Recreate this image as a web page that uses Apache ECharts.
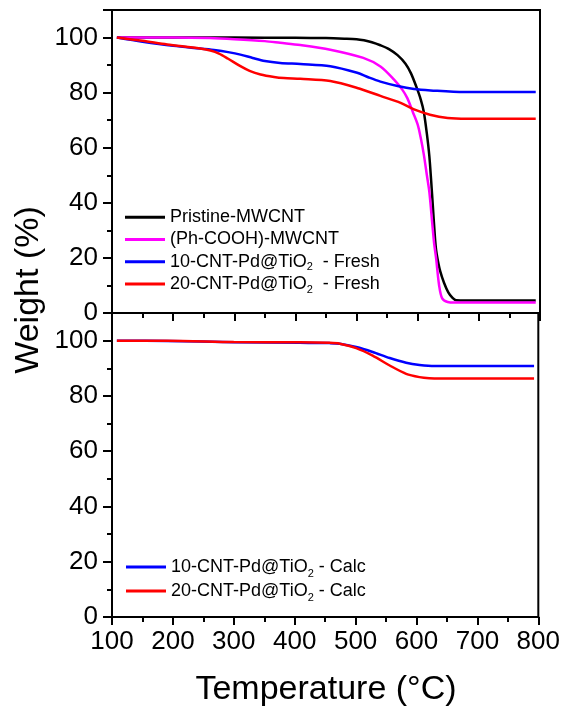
<!DOCTYPE html>
<html>
<head>
<meta charset="utf-8">
<script src="https://cdn.jsdelivr.net/npm/echarts@6/dist/echarts.min.js"></script>
<style>
html,body{margin:0;padding:0;background:#fff;}
#chart{width:563px;height:710px;}
</style>
</head>
<body>
<div id="chart"></div>
<script>
// ---- data (temperature °C, weight %) ----
const tPristine = [108, 200, 300, 400, 450, 480, 500, 512, 525, 539, 553, 567, 580, 589, 598, 605, 610, 615, 619, 622, 625, 628, 630, 633, 637, 643, 650, 657, 663, 680, 793];
const wPristine = [100, 100, 100, 99.9, 99.8, 99.6, 99.4, 99.0, 98.3, 97.2, 95.8, 93.6, 90.5, 87, 82, 77.5, 73, 65, 57, 48, 38, 28, 23, 19, 15, 11, 7.5, 5.5, 4.6, 4.5, 4.5];

const tPhCOOH = [108, 200, 260, 300, 350, 375, 408, 457, 511, 539, 561, 575, 583, 592, 600, 605, 610, 615, 619, 624, 627, 630, 635, 640, 649, 660, 793];
const wPhCOOH = [100, 100, 99.8, 99.4, 98.7, 98.1, 97.3, 95.6, 92.6, 89.5, 84.8, 81, 78, 73, 68.4, 63.5, 57.5, 50, 44, 32, 25, 20, 10, 5.3, 4.0, 3.8, 3.8];

const t10Fresh = [108, 150, 200, 244, 270, 290, 310, 330, 350, 375, 408, 457, 501, 520, 539, 567, 594, 621, 676, 793];
const w10Fresh = [100, 98.5, 97, 96, 95.4, 94.7, 93.8, 92.6, 91.5, 90.8, 90.4, 89.6, 87.2, 85.5, 84, 82.4, 81.3, 80.8, 80.2, 80.2];

const t20Fresh = [108, 150, 190, 244, 261, 275, 290, 310, 325, 343, 365, 381, 408, 457, 501, 539, 572, 594, 620, 649, 680, 793];
const w20Fresh = [100, 98.8, 97.5, 96, 95.3, 94.2, 92.3, 89.6, 87.9, 86.6, 85.7, 85.3, 85, 84.2, 81.7, 78.8, 76.3, 73.9, 72, 70.8, 70.5, 70.5];

const t10Calc = [108, 190, 300, 408, 457, 474, 501, 528, 556, 583, 605, 630, 793];
const w10Calc = [100, 99.9, 99.4, 99.2, 99.1, 98.9, 97.7, 95.9, 93.7, 92, 91.2, 90.8, 90.8];

const t20Calc = [108, 190, 300, 408, 457, 474, 501, 528, 556, 583, 605, 621, 640, 793];
const w20Calc = [100, 100, 99.5, 99.4, 99.2, 98.9, 97.3, 94.6, 91, 88, 86.8, 86.4, 86.3, 86.3];

const seriesNames = ['Pristine-MWCNT', '(Ph-COOH)-MWCNT', '10-CNT-Pd@TiO2  - Fresh', '20-CNT-Pd@TiO2  - Fresh', '10-CNT-Pd@TiO2 - Calc', '20-CNT-Pd@TiO2 - Calc'];
const seriesColors = ['#000000', '#ff00ff', '#0000ff', '#ff0000', '#0000ff', '#ff0000'];

const xTickLabels = [100, 200, 300, 400, 500, 600, 700, 800];
const yTickLabels = [0, 20, 40, 60, 80, 100];

const xTitle = 'Temperature (°C)';
const yTitle = 'Weight (%)';

// ---- build ----
const zip = (a, b) => a.map((v, i) => [v, b[i]]);
const seriesData = [
  zip(tPristine, wPristine), zip(tPhCOOH, wPhCOOH), zip(t10Fresh, w10Fresh),
  zip(t20Fresh, w20Fresh), zip(t10Calc, w10Calc), zip(t20Calc, w20Calc)
];
const panelOf = [0, 0, 0, 0, 1, 1];

const FONT = '"Liberation Sans", Arial, Helvetica, sans-serif';
const GL = 112, GW = 428;

function xAxisFor(gi, showLabels) {
  return {
    type: 'value', gridIndex: gi, min: 100, max: 800, interval: 100,
    axisLine: { show: true, onZero: false, lineStyle: { color: '#000', width: 2 } },
    axisTick: { show: true, inside: false, length: 8, lineStyle: { color: '#000', width: 2 } },
    minorTick: { show: true, splitNumber: 2, length: 5, lineStyle: { color: '#000', width: 2 } },
    splitLine: { show: false },
    axisLabel: {
      show: showLabels, fontSize: 26, color: '#000', fontFamily: FONT, margin: 12,
      formatter: v => xTickLabels.includes(v) ? String(v) : ''
    }
  };
}
function yMajor(gi) {
  return {
    type: 'value', gridIndex: gi, min: 0, max: 110, interval: 20,
    axisLine: { show: true, onZero: false, lineStyle: { color: '#000', width: 2 } },
    axisTick: { show: true, inside: false, length: 9, lineStyle: { color: '#000', width: 2 } },
    splitLine: { show: false },
    axisLabel: {
      fontSize: 26, color: '#000', fontFamily: FONT, margin: 14,
      formatter: v => yTickLabels.includes(v) ? String(v) : ''
    }
  };
}
function yMinor(gi) {
  return {
    type: 'value', gridIndex: gi, min: 0, max: 110, interval: 10, position: 'left',
    axisLine: { show: false },
    axisTick: { show: true, inside: false, length: 5, lineStyle: { color: '#000', width: 2 } },
    splitLine: { show: false },
    axisLabel: { show: false }
  };
}

const richLegend = {
  sub: { fontSize: 11, lineHeight: 12, verticalAlign: 'bottom', fontFamily: FONT, color: '#000' }
};
function legendFormatter(name) {
  return name.replace('TiO2', 'TiO{sub|2}');
}

const option = {
  backgroundColor: '#fff',
  animation: false,
  grid: [
    { left: GL, top: 10, width: GW, height: 303, show: true, borderColor: '#000', borderWidth: 2, backgroundColor: 'transparent' },
    { left: GL, top: 313, width: GW, height: 304, show: true, borderColor: '#000', borderWidth: 2, backgroundColor: 'transparent' }
  ],
  xAxis: [xAxisFor(0, false), xAxisFor(1, true)],
  yAxis: [yMajor(0), yMinor(0), yMajor(1), yMinor(1)],
  legend: [
    {
      data: seriesNames.slice(0, 4), orient: 'vertical', left: 125, top: 206, padding: 0,
      icon: 'rect', itemWidth: 40, itemHeight: 3, itemGap: 0,
      itemStyle: { borderWidth: 0 },
      textStyle: { fontSize: 18, lineHeight: 22.3, color: '#000', fontFamily: FONT, rich: richLegend },
      formatter: legendFormatter, selectedMode: false
    },
    {
      data: seriesNames.slice(4), orient: 'vertical', left: 126, top: 555, padding: 0,
      icon: 'rect', itemWidth: 40, itemHeight: 3, itemGap: 0,
      itemStyle: { borderWidth: 0 },
      textStyle: { fontSize: 18, lineHeight: 24, color: '#000', fontFamily: FONT, rich: richLegend },
      formatter: legendFormatter, selectedMode: false
    }
  ],
  graphic: [
    { type: 'text', x: 326, y: 690, style: { text: xTitle, fontSize: 34, fontFamily: FONT, fill: '#000', textAlign: 'center', textVerticalAlign: 'middle' } },
    { type: 'text', x: 29, y: 290, rotation: Math.PI / 2, style: { text: yTitle, fontSize: 34, fontFamily: FONT, fill: '#000', textAlign: 'center', textVerticalAlign: 'middle' } }
  ],
  series: seriesData.map((d, i) => ({
    name: seriesNames[i], type: 'line', data: d,
    xAxisIndex: panelOf[i], yAxisIndex: panelOf[i] * 2,
    showSymbol: false, symbol: 'none',
    smooth: 0.3,
    color: seriesColors[i],
    lineStyle: { color: seriesColors[i], width: 2.5 },
    z: 3
  }))
};

const chart = echarts.init(document.getElementById('chart'), null, { renderer: 'canvas' });
chart.setOption(option);
</script>
</body>
</html>
